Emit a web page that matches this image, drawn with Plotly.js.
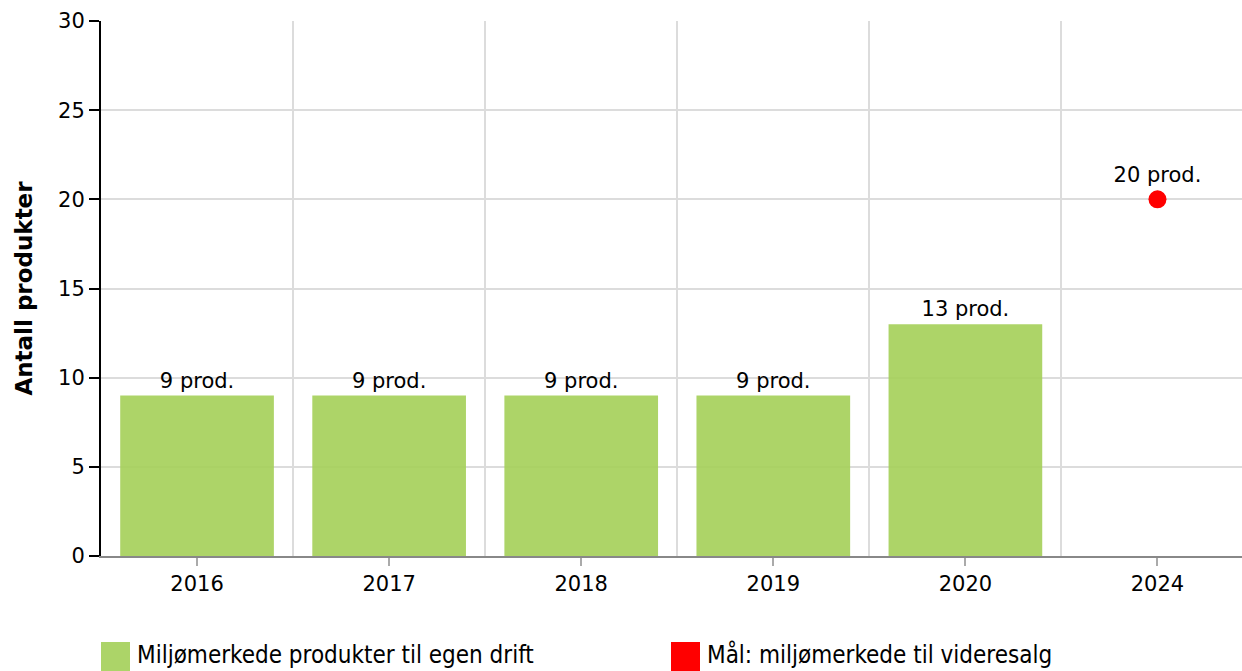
<!DOCTYPE html>
<html>
<head>
<meta charset="utf-8">
<script src="https://cdn.plot.ly/plotly-3.0.1.min.js"></script>
<style>html,body{margin:0;padding:0;background:#fff;}#chart{width:1242px;height:671px;}</style>
</head>
<body>
<div id="chart"></div>
<script>
const years = ['2016', '2017', '2018', '2019', '2020', '2024'];
const barYears = ['2016', '2017', '2018', '2019', '2020'];
const barValues = [9, 9, 9, 9, 13];
const goalYears = ['2024'];
const goalValues = [20];
const unit = ' prod.';
const barName = 'Miljømerkede produkter til egen drift';
const goalName = 'Mål: miljømerkede til videresalg';
const yTicks = [0, 5, 10, 15, 20, 25, 30];

const FONT = 'DejaVu Sans, Verdana, sans-serif';
const GREEN = '#a4cf58';
const GREEN_LEGEND = '#acd468';
const RED = '#ff0000';

const pos = y => years.indexOf(y);

const traces = [
  {
    type: 'bar', x: barYears.map(pos), y: barValues, name: barName,
    marker: {color: GREEN, opacity: 0.9}, width: 0.8,
    text: barValues.map(v => v + unit), textposition: 'outside',
    textfont: {family: FONT, size: 21, color: '#000'}, cliponaxis: false,
    showlegend: false
  },
  {
    type: 'scatter', mode: 'markers+text', x: goalYears.map(pos), y: goalValues, name: goalName,
    marker: {color: RED, size: 18},
    text: goalValues.map(v => v + unit), textposition: 'top center',
    textfont: {family: FONT, size: 21, color: '#000'}, cliponaxis: false,
    showlegend: false
  }
];

const legendItems = [
  {name: barName, color: GREEN_LEGEND, x0: 101},
  {name: goalName, color: RED, x0: 671}
];
const W = 1242, H = 671, ML = 101, MR = 0, MT = 21, MB = 115;
const pw = W - ML - MR, ph = H - MT - MB;
const shapes = [], annotations = [];
legendItems.forEach(it => {
  const px0 = (it.x0 - ML) / pw, px1 = (it.x0 + 29 - ML) / pw;
  const py1 = -(642 - (H - MB)) / ph, py0 = -(672 - (H - MB)) / ph;
  shapes.push({type: 'rect', xref: 'paper', yref: 'paper', x0: px0, x1: px1, y0: py0, y1: py1,
    fillcolor: it.color, line: {width: 0}});
  annotations.push({xref: 'paper', yref: 'paper', x: (it.x0 + 35 - ML) / pw, y: -(670 - (H - MB)) / ph,
    xanchor: 'left', yanchor: 'bottom', showarrow: false, text: it.name, borderpad: 0,
    font: {family: 'DejaVu Sans Condensed, DejaVu Sans', size: 24, color: '#000'}});
});

const layout = {
  width: W, height: H,
  margin: {l: ML, r: MR, t: MT, b: MB},
  paper_bgcolor: '#fff', plot_bgcolor: '#fff',
  font: {family: FONT, size: 21, color: '#000'},
  showlegend: false,
  xaxis: {
    type: 'linear', range: [-0.5, 5.44],
    tickmode: 'array', tickvals: years.map(pos), ticktext: years,
    showgrid: false, zeroline: false,
    showline: true, linecolor: '#888', linewidth: 2,
    ticks: 'outside', ticklen: 8, tickwidth: 2, tickcolor: '#aaa',
    tickfont: {family: FONT, size: 21, color: '#000'},
    minor: {tick0: 0.5, dtick: 1, showgrid: true, gridcolor: '#dcdcdc', gridwidth: 2, ticks: ''}
  },
  yaxis: {
    range: [0, 30], tickmode: 'array', tickvals: yTicks,
    showgrid: true, gridcolor: '#dcdcdc', gridwidth: 2, zeroline: false,
    showline: true, linecolor: '#000', linewidth: 2,
    ticks: 'outside', ticklen: 10, tickwidth: 2, tickcolor: '#000',
    tickfont: {family: FONT, size: 21, color: '#000'},
    title: {text: '<b>Antall produkter</b>', font: {family: FONT, size: 23, color: '#000'}, standoff: 19}
  },
  shapes: shapes, annotations: annotations
};

Plotly.newPlot('chart', traces, layout, {displayModeBar: false, staticPlot: true});
</script>
</body>
</html>
